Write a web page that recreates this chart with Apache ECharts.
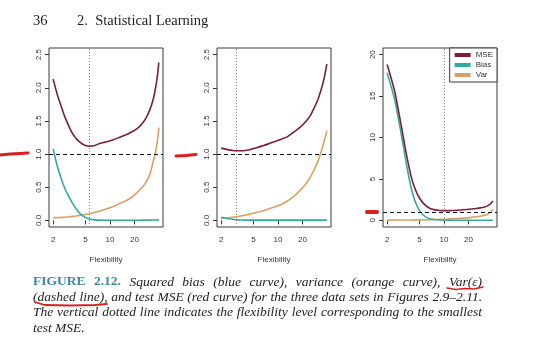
<!DOCTYPE html>
<html><head><meta charset="utf-8">
<script src="https://cdn.jsdelivr.net/npm/echarts@6/dist/echarts.min.js"></script>
<style>html,body{margin:0;padding:0;background:#fff}#c{width:540px;height:355px}</style>
</head><body><div id="c"></div>
<script>
// Flexibility grid (x values, log axis)
const flexibility = [2, 2.25, 2.5, 2.75, 3, 3.5, 4, 4.5, 5, 5.6, 6.5, 7.5, 9, 11, 13, 16, 19, 22, 25, 28, 31, 34, 36, 38, 40];

// Panel 1
const p1MSE  = [2.13, 1.90, 1.73, 1.58, 1.47, 1.30, 1.21, 1.16, 1.13, 1.12, 1.13, 1.16, 1.185, 1.215, 1.25, 1.295, 1.34, 1.39, 1.46, 1.55, 1.67, 1.82, 1.96, 2.14, 2.38];
const p1Bias = [1.08, 0.82, 0.64, 0.50, 0.40, 0.25, 0.145, 0.08, 0.045, 0.022, 0.008, 0.004, 0.002, 0.002, 0.002, 0.002, 0.002, 0.002, 0.003, 0.003, 0.004, 0.005, 0.006, 0.007, 0.008];
const p1Var  = [0.04, 0.042, 0.045, 0.048, 0.052, 0.06, 0.07, 0.08, 0.09, 0.10, 0.12, 0.14, 0.17, 0.21, 0.25, 0.30, 0.36, 0.43, 0.50, 0.58, 0.70, 0.88, 1.00, 1.16, 1.40];

// Panel 2
const p2MSE  = [1.09, 1.075, 1.063, 1.055, 1.05, 1.05, 1.055, 1.065, 1.085, 1.10, 1.125, 1.15, 1.185, 1.225, 1.26, 1.34, 1.41, 1.49, 1.58, 1.70, 1.82, 1.97, 2.08, 2.21, 2.36];
const p2Bias = [0.045, 0.035, 0.025, 0.017, 0.011, 0.006, 0.004, 0.003, 0.003, 0.003, 0.003, 0.003, 0.003, 0.003, 0.003, 0.003, 0.003, 0.003, 0.003, 0.003, 0.003, 0.003, 0.003, 0.003, 0.003];
const p2Var  = [0.03, 0.035, 0.04, 0.047, 0.054, 0.065, 0.08, 0.094, 0.108, 0.123, 0.14, 0.166, 0.20, 0.24, 0.29, 0.37, 0.46, 0.55, 0.65, 0.77, 0.89, 1.03, 1.14, 1.24, 1.35];

// Panel 3
const p3MSE  = [18.8, 17.1, 15.4, 13.3, 11.3, 7.7, 5.1, 3.6, 2.7, 2.05, 1.52, 1.30, 1.19, 1.17, 1.20, 1.25, 1.31, 1.37, 1.44, 1.51, 1.59, 1.72, 1.86, 2.05, 2.35];
const p3Bias = [17.8, 16.1, 14.4, 12.3, 10.3, 6.5, 3.7, 2.1, 1.2, 0.62, 0.24, 0.10, 0.04, 0.015, 0.01, 0.01, 0.01, 0.01, 0.01, 0.01, 0.01, 0.01, 0.01, 0.01, 0.01];
const p3Var  = [0.03, 0.033, 0.036, 0.038, 0.04, 0.045, 0.05, 0.055, 0.06, 0.07, 0.08, 0.095, 0.12, 0.15, 0.19, 0.24, 0.30, 0.36, 0.43, 0.50, 0.59, 0.72, 0.86, 1.05, 1.35];

const minMSEFlex = [5.6, 3.1, 10];   // vertical dotted lines
const irreducibleError = 1;          // Var(eps), dashed line
const xTicks = [2, 5, 10, 20];
const yTicksSmall = [0, 0.5, 1, 1.5, 2, 2.5];
const yTicksLarge = [0, 5, 10, 15, 20];
const seriesNames = ['MSE', 'Bias', 'Var'];
const colors = {MSE: '#7a1f38', Bias: '#33aaa0', Var: '#dba064'};

const captionLines = [
  [['FIGURE', 'b'], ['2.12.', 'b'], ['Squared', 'i'], ['bias', 'i'], ['(blue', 'i'], ['curve),', 'i'], ['variance', 'i'], ['(orange', 'i'], ['curve),', 'i'], ['Var(ε)', 'i']],
  '(dashed line), and test MSE (red curve) for the three data sets in Figures 2.9–2.11.',
  'The vertical dotted line indicates the flexibility level corresponding to the smallest',
  'test MSE.'
];

const panels = [
  {mse: p1MSE, bias: p1Bias, vr: p1Var, ymin: -0.1, ymax: 2.6, ticks: yTicksSmall, dec: 1, left: 49},
  {mse: p2MSE, bias: p2Bias, vr: p2Var, ymin: -0.1, ymax: 2.6, ticks: yTicksSmall, dec: 1, left: 217},
  {mse: p3MSE, bias: p3Bias, vr: p3Var, ymin: -0.8, ymax: 20.8, ticks: yTicksLarge, dec: 0, left: 383}
];

const grids = [], xAxes = [], yAxes = [], series = [];
panels.forEach((p, i) => {
  grids.push({left: p.left, top: 48, width: 114, height: 179, show: true, borderColor: '#3a3a3a', borderWidth: 1, backgroundColor: 'transparent'});
  xAxes.push({
    type: 'log', logBase: 10, gridIndex: i, min: 1.78, max: 45,
    axisLine: {show: false}, splitLine: {show: false},
    axisTick: {customValues: xTicks, length: 4, lineStyle: {color: '#3a3a3a'}},
    axisLabel: {customValues: xTicks, fontSize: 8, color: '#333', margin: 9, fontFamily: 'Liberation Sans'},
    name: 'Flexibility', nameLocation: 'middle', nameGap: 29,
    nameTextStyle: {fontSize: 8, color: '#333', fontFamily: 'Liberation Sans'}
  });
  yAxes.push({
    type: 'value', gridIndex: i, min: p.ymin, max: p.ymax,
    axisLine: {show: false}, splitLine: {show: false},
    axisTick: {customValues: p.ticks, length: 4, lineStyle: {color: '#3a3a3a'}},
    axisLabel: {customValues: p.ticks, rotate: 90, fontSize: 8, color: '#333', margin: 6, fontFamily: 'Liberation Sans',
      formatter: v => Number(v).toFixed(p.dec)}
  });
  const mk = (name, arr, extra) => Object.assign({
    name, type: 'line', xAxisIndex: i, yAxisIndex: i,
    data: flexibility.map((f, k) => [f, arr[k]]),
    showSymbol: false, symbol: 'none', smooth: 0.3,
    lineStyle: {color: colors[name], width: 1.6}, itemStyle: {color: colors[name]},
    silent: true, z: 3
  }, extra || {});
  series.push(mk('Var', p.vr));
  series.push(mk('Bias', p.bias));
  series.push(mk('MSE', p.mse, {
    markLine: {
      silent: true, symbol: 'none', label: {show: false},
      data: [
        {yAxis: irreducibleError, lineStyle: {color: '#111', type: [4, 3], width: 1}},
        {xAxis: minMSEFlex[i], lineStyle: {color: '#888', type: [1, 2], width: 1}}
      ]
    }
  }));
});

// caption layout: justified lines
const FONT_I = 'italic 13.5px "Liberation Serif"';
const FONT_B = 'bold 13.5px "Liberation Serif"';
const measureCtx = document.createElement('canvas').getContext('2d');
const textWidth = (t, f) => { measureCtx.font = f; return measureCtx.measureText(t).width; };
const capLeft = 33, capRight = 482, capTops = [275, 290, 305.5, 321];
const captionGraphics = [];
captionLines.forEach((line, li) => {
  const tokens = typeof line === 'string' ? line.split(' ').map(w => [w, 'i']) : line;
  const fonts = tokens.map(t => t[1] === 'b' ? FONT_B : FONT_I);
  const widths = tokens.map((t, k) => textWidth(t[0], fonts[k]));
  const total = widths.reduce((a, b) => a + b, 0);
  const justify = li < captionLines.length - 1;
  const gap = justify ? (capRight - capLeft - total) / (tokens.length - 1) : textWidth(' ', FONT_I);
  let x = capLeft;
  tokens.forEach((t, k) => {
    captionGraphics.push({type: 'text', left: x, top: capTops[li],
      style: {text: t[0], font: fonts[k], fill: t[1] === 'b' ? '#3d86ab' : '#222'}});
    x += widths[k] + gap;
  });
});

const chart = echarts.init(document.getElementById('c'), null, {renderer: 'canvas'});
chart.setOption({
  backgroundColor: '#fff',
  animation: false,
  grid: grids, xAxis: xAxes, yAxis: yAxes, series,
  legend: {
    data: seriesNames, orient: 'vertical', right: 43, top: 48,
    icon: 'rect', itemWidth: 16, itemHeight: 4, itemGap: 2,
    padding: [3, 4, 3, 5], borderColor: '#3a3a3a', borderWidth: 1, borderRadius: 0,
    backgroundColor: '#fff',
    textStyle: {fontSize: 8, color: '#333', fontFamily: 'Liberation Sans', lineHeight: 7}
  },
  graphic: [
    {type: 'text', left: 33, top: 14, style: {text: '36', font: '14.5px "Liberation Serif"', fill: '#222'}},
    {type: 'text', left: 77, top: 14, style: {text: '2.  Statistical Learning', font: '14.5px "Liberation Serif"', fill: '#222'}},
    ...captionGraphics,
    // red hand-drawn annotation strokes
    {type: 'polyline', shape: {points: [[0, 155], [10, 154], [20, 153.5], [28, 153]]}, style: {stroke: '#d61f1f', lineWidth: 3, lineCap: 'round', fill: null}},
    {type: 'polyline', shape: {points: [[176, 156], [186, 155.5], [196, 154.5]]}, style: {stroke: '#d61f1f', lineWidth: 3, lineCap: 'round', fill: null}},
    {type: 'polyline', shape: {points: [[367, 212], [377, 212]]}, style: {stroke: '#d61f1f', lineWidth: 4, lineCap: 'round', fill: null}},
    {type: 'polyline', shape: {points: [[447, 288], [456, 289.5], [465, 288.5], [474, 289], [483, 287]]}, style: {stroke: '#d61f1f', lineWidth: 1.5, lineCap: 'round', fill: null}},
    {type: 'polyline', shape: {points: [[35, 302], [45, 305], [70, 305.5], [95, 305], [107, 304]]}, style: {stroke: '#d61f1f', lineWidth: 1.8, lineCap: 'round', fill: null}}
  ]
});
</script></body></html>
